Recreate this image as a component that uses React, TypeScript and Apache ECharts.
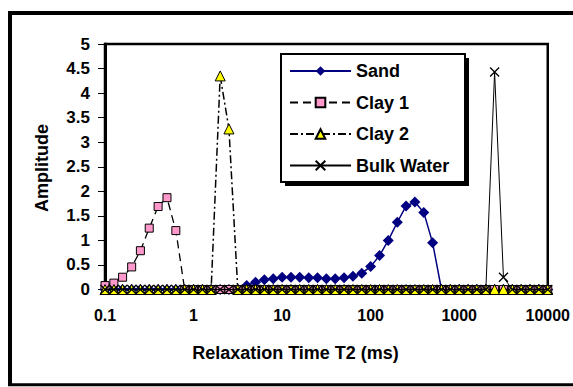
import React, { useEffect, useRef } from "react";
import * as echarts from "echarts";

// Relaxation time grid (ms), 10 points per decade
const t2Ms = [
  0.1, 0.126, 0.158, 0.2, 0.251, 0.316, 0.398, 0.501, 0.631, 0.794,
  1, 1.26, 1.58, 2, 2.51, 3.16, 3.98, 5.01, 6.31, 7.94,
  10, 12.6, 15.8, 20, 25.1, 31.6, 39.8, 50.1, 63.1, 79.4,
  100, 126, 158, 200, 251, 316, 398, 501, 631, 794,
  1000, 1260, 1580, 2000, 2510, 3160, 3980, 5010, 6310, 7940,
  10000,
];

const sand = [
  0, 0, 0, 0, 0, 0, 0, 0, 0, 0,
  0, 0, 0, 0, 0, 0, 0.08, 0.15, 0.2, 0.22,
  0.25, 0.25, 0.25, 0.24, 0.24, 0.22, 0.22, 0.24, 0.27, 0.33,
  0.47, 0.69, 1.0, 1.37, 1.7, 1.78, 1.57, 0.95, 0, 0,
  0, 0, 0, 0, 0, 0, 0, 0, 0, 0,
  0,
];

const clay1 = [
  0.08, 0.13, 0.25, 0.46, 0.79, 1.25, 1.69, 1.87, 1.2, 0,
  0, 0, 0, 0, 0, 0, 0, 0, 0, 0,
  0, 0, 0, 0, 0, 0, 0, 0, 0, 0,
  0, 0, 0, 0, 0, 0, 0, 0, 0, 0,
  0, 0, 0, 0, 0, 0, 0, 0, 0, 0,
  0,
];

const clay2 = [
  0, 0, 0, 0, 0, 0, 0, 0, 0, 0,
  0, 0, 0, 4.35, 3.27, 0, 0, 0, 0, 0,
  0, 0, 0, 0, 0, 0, 0, 0, 0, 0,
  0, 0, 0, 0, 0, 0, 0, 0, 0, 0,
  0, 0, 0, 0, 0, 0, 0, 0, 0, 0,
  0,
];

const bulkWater = [
  0, 0, 0, 0, 0, 0, 0, 0, 0, 0,
  0, 0, 0, 0, 0, 0, 0, 0, 0, 0,
  0, 0, 0, 0, 0, 0, 0, 0, 0, 0,
  0, 0, 0, 0, 0, 0, 0, 0, 0, 0,
  0, 0, 0, 0, 4.43, 0.25, 0, 0, 0, 0,
  0,
];

const xTickLabels = ["0.1", "1", "10", "100", "1000", "10000"];
const seriesNames = ["Sand", "Clay 1", "Clay 2", "Bulk Water"];

const FONT = "'Liberation Sans', Arial, sans-serif";

const pairs = (ys: number[]) => t2Ms.map((x, i) => [x, ys[i]]);

export default function App() {
  const ref = useRef<HTMLDivElement>(null);

  useEffect(() => {
    if (!ref.current) return;
    const chart = echarts.init(ref.current, undefined, { renderer: "svg" });
    const xSym = "path://M0,0L10,10M10,0L0,10";
    chart.setOption({
      animation: false,
      backgroundColor: "#ffffff",
      grid: {
        left: 105,
        right: 25,
        top: 44,
        bottom: 97.5,
        show: true,
        borderColor: "#000",
        borderWidth: 2.5,
        backgroundColor: "transparent",
      },
      xAxis: {
        type: "log",
        logBase: 10,
        min: 0.1,
        max: 10000,
        axisLine: { show: true, lineStyle: { color: "#000", width: 2 } },
        axisTick: { show: true, inside: false, length: 4, lineStyle: { color: "#000", width: 1 } },
        minorTick: { show: false },
        splitLine: { show: false },
        axisLabel: {
          margin: 18,
          color: "#000",
          fontFamily: FONT,
          fontWeight: "bold",
          fontSize: 16,
          formatter: (v: number) => {
            const k = Math.round(Math.log10(v)) + 1;
            return xTickLabels[k] ?? "";
          },
        },
      },
      yAxis: {
        type: "value",
        min: 0,
        max: 5,
        interval: 0.5,
        axisLine: { show: true, lineStyle: { color: "#000", width: 3 } },
        axisTick: { show: true, inside: false, length: 7, lineStyle: { color: "#000", width: 1 } },
        splitLine: { show: false },
        axisLabel: {
          margin: 15,
          color: "#000",
          fontFamily: FONT,
          fontWeight: "bold",
          fontSize: 17,
        },
      },
      legend: {
        orient: "vertical",
        left: 289,
        top: 62,
        padding: 0,
        itemWidth: 61,
        itemHeight: 12,
        itemGap: 13.5,
        z: 10,
        data: seriesNames,
        textStyle: {
          color: "#000",
          fontFamily: FONT,
          fontWeight: "bold",
          fontSize: 18,
        },
      },
      graphic: [
        {
          type: "rect",
          z: 8,
          silent: true,
          shape: { x: 285, y: 58, width: 184, height: 128 },
          style: { fill: "#000" },
        },
        {
          type: "rect",
          z: 9,
          silent: true,
          shape: { x: 281, y: 54, width: 184, height: 128 },
          style: { fill: "#fff", stroke: "#000", lineWidth: 2 },
        },
        {
          type: "line",
          silent: true,
          shape: { x1: 10, y1: 11, x2: 10, y2: 386 },
          style: { stroke: "#000", lineWidth: 4 },
        },
        {
          type: "line",
          silent: true,
          shape: { x1: 8, y1: 13, x2: 600, y2: 13 },
          style: { stroke: "#000", lineWidth: 4 },
        },
        {
          type: "line",
          silent: true,
          shape: { x1: 8, y1: 384.7, x2: 600, y2: 384.7 },
          style: { stroke: "#000", lineWidth: 3 },
        },
        {
          type: "text",
          silent: true,
          x: 295.5,
          y: 353,
          style: {
            text: "Relaxation Time T2 (ms)",
            fill: "#000",
            font: `bold 18px ${FONT}`,
            align: "center",
            verticalAlign: "middle",
          },
        },
        {
          type: "text",
          silent: true,
          x: 41.7,
          y: 168,
          rotation: Math.PI / 2,
          style: {
            text: "Amplitude",
            fill: "#000",
            font: `bold 18px ${FONT}`,
            align: "center",
            verticalAlign: "middle",
          },
        },
      ],
      series: [
        {
          name: "Sand",
          type: "line",
          data: pairs(sand),
          showAllSymbol: true,
          symbol: "diamond",
          symbolSize: 11,
          itemStyle: { color: "#000080" },
          lineStyle: { color: "#000080", width: 1.5 },
          z: 2,
        },
        {
          name: "Clay 1",
          type: "line",
          data: pairs(clay1),
          showAllSymbol: true,
          symbol: "rect",
          symbolSize: 8,
          itemStyle: { color: "#FF99CC", borderColor: "#000", borderWidth: 1 },
          lineStyle: { color: "#000", width: 1.3, type: [8, 5] },
          z: 3,
        },
        {
          name: "Clay 2",
          type: "line",
          data: pairs(clay2),
          showAllSymbol: true,
          symbol: "triangle",
          symbolSize: 10,
          itemStyle: { color: "#FFFF00", borderColor: "#000", borderWidth: 1 },
          lineStyle: { color: "#000", width: 1.5, type: [8, 3, 2, 3] },
          z: 4,
        },
        {
          name: "Bulk Water",
          type: "line",
          data: pairs(bulkWater),
          showAllSymbol: true,
          symbol: xSym,
          symbolSize: 9,
          itemStyle: { color: "transparent", borderColor: "#000", borderWidth: 1.3 },
          lineStyle: { color: "#000", width: 1 },
          z: 5,
        },
      ],
    });
    return () => chart.dispose();
  }, []);

  return (
    <div
      ref={ref}
      style={{ position: "fixed", left: 0, top: 0, width: 573, height: 387, background: "#fff" }}
    />
  );
}
